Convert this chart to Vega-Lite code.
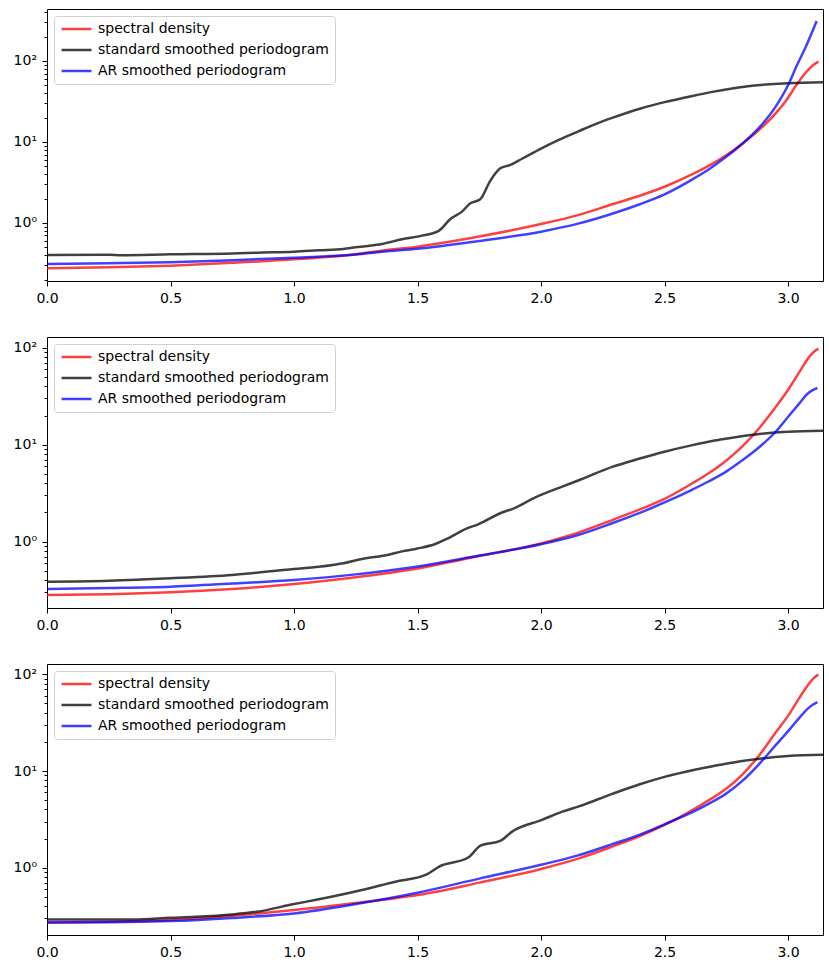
{
  "$schema": "https://vega.github.io/schema/vega-lite/v6.json",
  "background": "#ffffff",
  "padding": {"left": 12, "top": 4, "right": 8, "bottom": 0},
  "spacing": 30,
  "datasets": {
    "p1": [
      {"f": 0, "series": "spectral density", "v": 0.275},
      {"f": 0.25, "series": "spectral density", "v": 0.283},
      {"f": 0.5, "series": "spectral density", "v": 0.297},
      {"f": 0.75, "series": "spectral density", "v": 0.322},
      {"f": 1.0, "series": "spectral density", "v": 0.356},
      {"f": 1.25, "series": "spectral density", "v": 0.412},
      {"f": 1.356, "series": "spectral density", "v": 0.455},
      {"f": 1.5, "series": "spectral density", "v": 0.51},
      {"f": 1.75, "series": "spectral density", "v": 0.68},
      {"f": 2.0, "series": "spectral density", "v": 0.97},
      {"f": 2.15, "series": "spectral density", "v": 1.25},
      {"f": 2.288, "series": "spectral density", "v": 1.7},
      {"f": 2.4, "series": "spectral density", "v": 2.17},
      {"f": 2.5, "series": "spectral density", "v": 2.8},
      {"f": 2.613, "series": "spectral density", "v": 4.0},
      {"f": 2.68, "series": "spectral density", "v": 5.1},
      {"f": 2.748, "series": "spectral density", "v": 6.8},
      {"f": 2.815, "series": "spectral density", "v": 9.5},
      {"f": 2.883, "series": "spectral density", "v": 14.1},
      {"f": 2.95, "series": "spectral density", "v": 22.5},
      {"f": 2.991, "series": "spectral density", "v": 32},
      {"f": 3.031, "series": "spectral density", "v": 49},
      {"f": 3.072, "series": "spectral density", "v": 72},
      {"f": 3.1, "series": "spectral density", "v": 88},
      {"f": 3.123, "series": "spectral density", "v": 98},
      {"f": 0, "series": "standard smoothed periodogram", "v": 0.403},
      {"f": 0.25, "series": "standard smoothed periodogram", "v": 0.405},
      {"f": 0.3, "series": "standard smoothed periodogram", "v": 0.4},
      {"f": 0.5, "series": "standard smoothed periodogram", "v": 0.41},
      {"f": 0.75, "series": "standard smoothed periodogram", "v": 0.42},
      {"f": 0.85, "series": "standard smoothed periodogram", "v": 0.43},
      {"f": 1.0, "series": "standard smoothed periodogram", "v": 0.442},
      {"f": 1.1, "series": "standard smoothed periodogram", "v": 0.46},
      {"f": 1.2, "series": "standard smoothed periodogram", "v": 0.478},
      {"f": 1.25, "series": "standard smoothed periodogram", "v": 0.5},
      {"f": 1.3, "series": "standard smoothed periodogram", "v": 0.52},
      {"f": 1.356, "series": "standard smoothed periodogram", "v": 0.55},
      {"f": 1.437, "series": "standard smoothed periodogram", "v": 0.629},
      {"f": 1.518, "series": "standard smoothed periodogram", "v": 0.698},
      {"f": 1.586, "series": "standard smoothed periodogram", "v": 0.8},
      {"f": 1.633, "series": "standard smoothed periodogram", "v": 1.12},
      {"f": 1.68, "series": "standard smoothed periodogram", "v": 1.38},
      {"f": 1.714, "series": "standard smoothed periodogram", "v": 1.75},
      {"f": 1.754, "series": "standard smoothed periodogram", "v": 1.96},
      {"f": 1.795, "series": "standard smoothed periodogram", "v": 3.33},
      {"f": 1.835, "series": "standard smoothed periodogram", "v": 4.73},
      {"f": 1.876, "series": "standard smoothed periodogram", "v": 5.2},
      {"f": 1.923, "series": "standard smoothed periodogram", "v": 6.2},
      {"f": 2.004, "series": "standard smoothed periodogram", "v": 8.4},
      {"f": 2.072, "series": "standard smoothed periodogram", "v": 10.6},
      {"f": 2.153, "series": "standard smoothed periodogram", "v": 13.6},
      {"f": 2.22, "series": "standard smoothed periodogram", "v": 16.6},
      {"f": 2.288, "series": "standard smoothed periodogram", "v": 19.8},
      {"f": 2.4, "series": "standard smoothed periodogram", "v": 25.7},
      {"f": 2.5, "series": "standard smoothed periodogram", "v": 31},
      {"f": 2.613, "series": "standard smoothed periodogram", "v": 37},
      {"f": 2.693, "series": "standard smoothed periodogram", "v": 41.5},
      {"f": 2.83, "series": "standard smoothed periodogram", "v": 48.5},
      {"f": 3.0, "series": "standard smoothed periodogram", "v": 53.2},
      {"f": 3.1416, "series": "standard smoothed periodogram", "v": 54.6},
      {"f": 0, "series": "AR smoothed periodogram", "v": 0.312},
      {"f": 0.25, "series": "AR smoothed periodogram", "v": 0.318},
      {"f": 0.5, "series": "AR smoothed periodogram", "v": 0.327},
      {"f": 0.75, "series": "AR smoothed periodogram", "v": 0.347},
      {"f": 1.0, "series": "AR smoothed periodogram", "v": 0.373},
      {"f": 1.25, "series": "AR smoothed periodogram", "v": 0.407},
      {"f": 1.356, "series": "AR smoothed periodogram", "v": 0.442},
      {"f": 1.5, "series": "AR smoothed periodogram", "v": 0.48},
      {"f": 1.75, "series": "AR smoothed periodogram", "v": 0.6},
      {"f": 2.0, "series": "AR smoothed periodogram", "v": 0.78},
      {"f": 2.15, "series": "AR smoothed periodogram", "v": 0.98},
      {"f": 2.288, "series": "AR smoothed periodogram", "v": 1.3},
      {"f": 2.4, "series": "AR smoothed periodogram", "v": 1.7},
      {"f": 2.5, "series": "AR smoothed periodogram", "v": 2.25},
      {"f": 2.613, "series": "AR smoothed periodogram", "v": 3.45},
      {"f": 2.68, "series": "AR smoothed periodogram", "v": 4.6},
      {"f": 2.748, "series": "AR smoothed periodogram", "v": 6.5},
      {"f": 2.815, "series": "AR smoothed periodogram", "v": 9.5},
      {"f": 2.883, "series": "AR smoothed periodogram", "v": 15},
      {"f": 2.95, "series": "AR smoothed periodogram", "v": 27.3},
      {"f": 3.004, "series": "AR smoothed periodogram", "v": 53},
      {"f": 3.031, "series": "AR smoothed periodogram", "v": 82},
      {"f": 3.072, "series": "AR smoothed periodogram", "v": 150},
      {"f": 3.116, "series": "AR smoothed periodogram", "v": 312}
    ],
    "p2": [
      {"f": 0, "series": "spectral density", "v": 0.282},
      {"f": 0.25, "series": "spectral density", "v": 0.287},
      {"f": 0.5, "series": "spectral density", "v": 0.3},
      {"f": 0.75, "series": "spectral density", "v": 0.325},
      {"f": 1.0, "series": "spectral density", "v": 0.366},
      {"f": 1.25, "series": "spectral density", "v": 0.43},
      {"f": 1.5, "series": "spectral density", "v": 0.53},
      {"f": 1.75, "series": "spectral density", "v": 0.71},
      {"f": 2.0, "series": "spectral density", "v": 0.96},
      {"f": 2.15, "series": "spectral density", "v": 1.24},
      {"f": 2.288, "series": "spectral density", "v": 1.67},
      {"f": 2.4, "series": "spectral density", "v": 2.15},
      {"f": 2.5, "series": "spectral density", "v": 2.76},
      {"f": 2.613, "series": "spectral density", "v": 4.0},
      {"f": 2.68, "series": "spectral density", "v": 5.1},
      {"f": 2.748, "series": "spectral density", "v": 6.8},
      {"f": 2.815, "series": "spectral density", "v": 9.6},
      {"f": 2.883, "series": "spectral density", "v": 14.8},
      {"f": 2.95, "series": "spectral density", "v": 24.5},
      {"f": 3.004, "series": "spectral density", "v": 38},
      {"f": 3.045, "series": "spectral density", "v": 55.6},
      {"f": 3.085, "series": "spectral density", "v": 80},
      {"f": 3.105, "series": "spectral density", "v": 91},
      {"f": 3.123, "series": "spectral density", "v": 98},
      {"f": 0, "series": "standard smoothed periodogram", "v": 0.387},
      {"f": 0.25, "series": "standard smoothed periodogram", "v": 0.396},
      {"f": 0.5, "series": "standard smoothed periodogram", "v": 0.419},
      {"f": 0.75, "series": "standard smoothed periodogram", "v": 0.453},
      {"f": 1.0, "series": "standard smoothed periodogram", "v": 0.523},
      {"f": 1.1, "series": "standard smoothed periodogram", "v": 0.55},
      {"f": 1.2, "series": "standard smoothed periodogram", "v": 0.598},
      {"f": 1.275, "series": "standard smoothed periodogram", "v": 0.663},
      {"f": 1.383, "series": "standard smoothed periodogram", "v": 0.734},
      {"f": 1.437, "series": "standard smoothed periodogram", "v": 0.794},
      {"f": 1.5, "series": "standard smoothed periodogram", "v": 0.85},
      {"f": 1.572, "series": "standard smoothed periodogram", "v": 0.946},
      {"f": 1.626, "series": "standard smoothed periodogram", "v": 1.09},
      {"f": 1.7, "series": "standard smoothed periodogram", "v": 1.37},
      {"f": 1.748, "series": "standard smoothed periodogram", "v": 1.52},
      {"f": 1.842, "series": "standard smoothed periodogram", "v": 2.0},
      {"f": 1.883, "series": "standard smoothed periodogram", "v": 2.17},
      {"f": 1.977, "series": "standard smoothed periodogram", "v": 2.86},
      {"f": 2.086, "series": "standard smoothed periodogram", "v": 3.7},
      {"f": 2.153, "series": "standard smoothed periodogram", "v": 4.3},
      {"f": 2.288, "series": "standard smoothed periodogram", "v": 5.9},
      {"f": 2.4, "series": "standard smoothed periodogram", "v": 7.2},
      {"f": 2.5, "series": "standard smoothed periodogram", "v": 8.47},
      {"f": 2.613, "series": "standard smoothed periodogram", "v": 9.9},
      {"f": 2.693, "series": "standard smoothed periodogram", "v": 10.9},
      {"f": 2.748, "series": "standard smoothed periodogram", "v": 11.5},
      {"f": 2.883, "series": "standard smoothed periodogram", "v": 12.9},
      {"f": 3.0, "series": "standard smoothed periodogram", "v": 13.6},
      {"f": 3.1416, "series": "standard smoothed periodogram", "v": 13.9},
      {"f": 0, "series": "AR smoothed periodogram", "v": 0.325},
      {"f": 0.25, "series": "AR smoothed periodogram", "v": 0.332},
      {"f": 0.5, "series": "AR smoothed periodogram", "v": 0.343},
      {"f": 0.75, "series": "AR smoothed periodogram", "v": 0.37},
      {"f": 1.0, "series": "AR smoothed periodogram", "v": 0.403},
      {"f": 1.25, "series": "AR smoothed periodogram", "v": 0.46},
      {"f": 1.5, "series": "AR smoothed periodogram", "v": 0.555},
      {"f": 1.75, "series": "AR smoothed periodogram", "v": 0.72},
      {"f": 2.0, "series": "AR smoothed periodogram", "v": 0.94},
      {"f": 2.15, "series": "AR smoothed periodogram", "v": 1.17},
      {"f": 2.288, "series": "AR smoothed periodogram", "v": 1.55},
      {"f": 2.4, "series": "AR smoothed periodogram", "v": 1.98},
      {"f": 2.5, "series": "AR smoothed periodogram", "v": 2.54},
      {"f": 2.613, "series": "AR smoothed periodogram", "v": 3.45},
      {"f": 2.68, "series": "AR smoothed periodogram", "v": 4.2},
      {"f": 2.748, "series": "AR smoothed periodogram", "v": 5.25},
      {"f": 2.815, "series": "AR smoothed periodogram", "v": 6.9},
      {"f": 2.883, "series": "AR smoothed periodogram", "v": 9.4},
      {"f": 2.95, "series": "AR smoothed periodogram", "v": 13.6},
      {"f": 3.004, "series": "AR smoothed periodogram", "v": 19.9},
      {"f": 3.045, "series": "AR smoothed periodogram", "v": 26.5},
      {"f": 3.079, "series": "AR smoothed periodogram", "v": 33.5},
      {"f": 3.1, "series": "AR smoothed periodogram", "v": 36.5},
      {"f": 3.119, "series": "AR smoothed periodogram", "v": 38.4}
    ],
    "p3": [
      {"f": 0, "series": "spectral density", "v": 0.271},
      {"f": 0.25, "series": "spectral density", "v": 0.276},
      {"f": 0.5, "series": "spectral density", "v": 0.287},
      {"f": 0.75, "series": "spectral density", "v": 0.318},
      {"f": 1.0, "series": "spectral density", "v": 0.364},
      {"f": 1.25, "series": "spectral density", "v": 0.43},
      {"f": 1.5, "series": "spectral density", "v": 0.52},
      {"f": 1.75, "series": "spectral density", "v": 0.7},
      {"f": 2.0, "series": "spectral density", "v": 0.97},
      {"f": 2.15, "series": "spectral density", "v": 1.24},
      {"f": 2.288, "series": "spectral density", "v": 1.65},
      {"f": 2.4, "series": "spectral density", "v": 2.12},
      {"f": 2.5, "series": "spectral density", "v": 2.77},
      {"f": 2.613, "series": "spectral density", "v": 3.95},
      {"f": 2.68, "series": "spectral density", "v": 5.0},
      {"f": 2.748, "series": "spectral density", "v": 6.5},
      {"f": 2.815, "series": "spectral density", "v": 9.2},
      {"f": 2.883, "series": "spectral density", "v": 14.5},
      {"f": 2.95, "series": "spectral density", "v": 25},
      {"f": 3.004, "series": "spectral density", "v": 38.5},
      {"f": 3.045, "series": "spectral density", "v": 56.8},
      {"f": 3.085, "series": "spectral density", "v": 80},
      {"f": 3.105, "series": "spectral density", "v": 92},
      {"f": 3.123, "series": "spectral density", "v": 99.3},
      {"f": 0, "series": "standard smoothed periodogram", "v": 0.291},
      {"f": 0.35, "series": "standard smoothed periodogram", "v": 0.291},
      {"f": 0.5, "series": "standard smoothed periodogram", "v": 0.303},
      {"f": 0.6, "series": "standard smoothed periodogram", "v": 0.31},
      {"f": 0.75, "series": "standard smoothed periodogram", "v": 0.328},
      {"f": 0.85, "series": "standard smoothed periodogram", "v": 0.35},
      {"f": 1.0, "series": "standard smoothed periodogram", "v": 0.42},
      {"f": 1.1, "series": "standard smoothed periodogram", "v": 0.47},
      {"f": 1.275, "series": "standard smoothed periodogram", "v": 0.587},
      {"f": 1.41, "series": "standard smoothed periodogram", "v": 0.716},
      {"f": 1.538, "series": "standard smoothed periodogram", "v": 0.853},
      {"f": 1.586, "series": "standard smoothed periodogram", "v": 1.02},
      {"f": 1.707, "series": "standard smoothed periodogram", "v": 1.28},
      {"f": 1.755, "series": "standard smoothed periodogram", "v": 1.69},
      {"f": 1.835, "series": "standard smoothed periodogram", "v": 1.89},
      {"f": 1.883, "series": "standard smoothed periodogram", "v": 2.36},
      {"f": 2.004, "series": "standard smoothed periodogram", "v": 3.12},
      {"f": 2.086, "series": "standard smoothed periodogram", "v": 3.8},
      {"f": 2.153, "series": "standard smoothed periodogram", "v": 4.3},
      {"f": 2.288, "series": "standard smoothed periodogram", "v": 5.8},
      {"f": 2.4, "series": "standard smoothed periodogram", "v": 7.3},
      {"f": 2.5, "series": "standard smoothed periodogram", "v": 8.7},
      {"f": 2.613, "series": "standard smoothed periodogram", "v": 10.2},
      {"f": 2.693, "series": "standard smoothed periodogram", "v": 11.2},
      {"f": 2.748, "series": "standard smoothed periodogram", "v": 11.9},
      {"f": 2.883, "series": "standard smoothed periodogram", "v": 13.4},
      {"f": 3.0, "series": "standard smoothed periodogram", "v": 14.3},
      {"f": 3.1416, "series": "standard smoothed periodogram", "v": 14.7},
      {"f": 0, "series": "AR smoothed periodogram", "v": 0.271},
      {"f": 0.25, "series": "AR smoothed periodogram", "v": 0.272},
      {"f": 0.5, "series": "AR smoothed periodogram", "v": 0.28},
      {"f": 0.75, "series": "AR smoothed periodogram", "v": 0.302},
      {"f": 1.0, "series": "AR smoothed periodogram", "v": 0.336},
      {"f": 1.25, "series": "AR smoothed periodogram", "v": 0.42},
      {"f": 1.5, "series": "AR smoothed periodogram", "v": 0.55},
      {"f": 1.75, "series": "AR smoothed periodogram", "v": 0.77},
      {"f": 2.0, "series": "AR smoothed periodogram", "v": 1.07},
      {"f": 2.15, "series": "AR smoothed periodogram", "v": 1.34},
      {"f": 2.288, "series": "AR smoothed periodogram", "v": 1.75},
      {"f": 2.4, "series": "AR smoothed periodogram", "v": 2.2},
      {"f": 2.5, "series": "AR smoothed periodogram", "v": 2.81},
      {"f": 2.613, "series": "AR smoothed periodogram", "v": 3.75},
      {"f": 2.68, "series": "AR smoothed periodogram", "v": 4.6},
      {"f": 2.748, "series": "AR smoothed periodogram", "v": 5.8},
      {"f": 2.815, "series": "AR smoothed periodogram", "v": 7.9},
      {"f": 2.883, "series": "AR smoothed periodogram", "v": 11.8},
      {"f": 2.95, "series": "AR smoothed periodogram", "v": 18.5},
      {"f": 3.004, "series": "AR smoothed periodogram", "v": 26.5},
      {"f": 3.045, "series": "AR smoothed periodogram", "v": 35.3},
      {"f": 3.079, "series": "AR smoothed periodogram", "v": 44},
      {"f": 3.1, "series": "AR smoothed periodogram", "v": 48.5},
      {"f": 3.119, "series": "AR smoothed periodogram", "v": 51.6}
    ]
  },
  "vconcat": [
    {
      "width": 776,
      "height": 272,
      "data": {"name": "p1"},
      "mark": {"type": "line", "interpolate": "monotone", "strokeWidth": 2.5, "opacity": 0.75},
      "encoding": {
        "x": {"field": "f", "type": "quantitative", "scale": {"domain": [0, 3.1416], "nice": false, "zero": false}, "axis": {"values": [0, 0.5, 1, 1.5, 2, 2.5, 3], "format": ".1f", "title": null}},
        "y": {"field": "v", "type": "quantitative", "scale": {"type": "log", "domain": [0.192, 438], "nice": false},
          "axis": {"title": null, "values": [0.2, 0.3, 0.4, 0.5, 0.6, 0.7, 0.8, 0.9, 1, 2, 3, 4, 5, 6, 7, 8, 9, 10, 20, 30, 40, 50, 60, 70, 80, 90, 100, 200, 300, 400],
            "labelExpr": "datum.value == 100 ? '10²' : datum.value == 10 ? '10¹' : datum.value == 1 ? '10⁰' : ''",
            "tickSize": {"condition": {"test": "datum.value == 1 || datum.value == 10 || datum.value == 100", "value": 5}, "value": 3}}},
        "color": {"field": "series", "type": "nominal", "sort": null,
          "scale": {"domain": ["spectral density", "standard smoothed periodogram", "AR smoothed periodogram"], "range": ["#ff0000", "#000000", "#0000ff"]},
          "legend": {"title": null}}
      }
    },
    {
      "width": 776,
      "height": 271,
      "data": {"name": "p2"},
      "mark": {"type": "line", "interpolate": "monotone", "strokeWidth": 2.5, "opacity": 0.75},
      "encoding": {
        "x": {"field": "f", "type": "quantitative", "scale": {"domain": [0, 3.1416], "nice": false, "zero": false}, "axis": {"values": [0, 0.5, 1, 1.5, 2, 2.5, 3], "format": ".1f", "title": null}},
        "y": {"field": "v", "type": "quantitative", "scale": {"type": "log", "domain": [0.207, 129], "nice": false},
          "axis": {"title": null, "values": [0.3, 0.4, 0.5, 0.6, 0.7, 0.8, 0.9, 1, 2, 3, 4, 5, 6, 7, 8, 9, 10, 20, 30, 40, 50, 60, 70, 80, 90, 100],
            "labelExpr": "datum.value == 100 ? '10²' : datum.value == 10 ? '10¹' : datum.value == 1 ? '10⁰' : ''",
            "tickSize": {"condition": {"test": "datum.value == 1 || datum.value == 10 || datum.value == 100", "value": 5}, "value": 3}}},
        "color": {"field": "series", "type": "nominal", "sort": null,
          "scale": {"domain": ["spectral density", "standard smoothed periodogram", "AR smoothed periodogram"], "range": ["#ff0000", "#000000", "#0000ff"]},
          "legend": {"title": null}}
      }
    },
    {
      "width": 776,
      "height": 271,
      "data": {"name": "p3"},
      "mark": {"type": "line", "interpolate": "monotone", "strokeWidth": 2.5, "opacity": 0.75},
      "encoding": {
        "x": {"field": "f", "type": "quantitative", "scale": {"domain": [0, 3.1416], "nice": false, "zero": false}, "axis": {"values": [0, 0.5, 1, 1.5, 2, 2.5, 3], "format": ".1f", "title": null}},
        "y": {"field": "v", "type": "quantitative", "scale": {"type": "log", "domain": [0.201, 128], "nice": false},
          "axis": {"title": null, "values": [0.3, 0.4, 0.5, 0.6, 0.7, 0.8, 0.9, 1, 2, 3, 4, 5, 6, 7, 8, 9, 10, 20, 30, 40, 50, 60, 70, 80, 90, 100],
            "labelExpr": "datum.value == 100 ? '10²' : datum.value == 10 ? '10¹' : datum.value == 1 ? '10⁰' : ''",
            "tickSize": {"condition": {"test": "datum.value == 1 || datum.value == 10 || datum.value == 100", "value": 5}, "value": 3}}},
        "color": {"field": "series", "type": "nominal", "sort": null,
          "scale": {"domain": ["spectral density", "standard smoothed periodogram", "AR smoothed periodogram"], "range": ["#ff0000", "#000000", "#0000ff"]},
          "legend": {"title": null}}
      }
    }
  ],
  "resolve": {"scale": {"color": "independent", "x": "independent", "y": "independent"}, "legend": {"color": "independent"}},
  "config": {
    "font": "DejaVu Sans",
    "view": {"stroke": "#000000", "strokeWidth": 1},
    "axis": {
      "grid": false,
      "domain": false,
      "ticks": true,
      "tickColor": "#000000",
      "tickSize": 5,
      "labelColor": "#000000",
      "labelFont": "DejaVu Sans",
      "labelFontSize": 14,
      "labelPadding": 5.5,
      "labelOverlap": false,
      "labelBound": false,
      "labelFlush": false
    },
    "legend": {
      "orient": "top-left",
      "offset": 7,
      "padding": 6,
      "fillColor": "rgba(255,255,255,0.8)",
      "strokeColor": "#d0d0d0",
      "cornerRadius": 3,
      "symbolType": "stroke",
      "symbolSize": 900,
      "symbolStrokeWidth": 2.5,
      "symbolOpacity": 0.75,
      "clipHeight": 14,
      "labelFont": "DejaVu Sans",
      "labelFontSize": 14,
      "labelColor": "#000000",
      "labelOffset": 5,
      "labelLimit": 0,
      "rowPadding": 7
    }
  }
}
